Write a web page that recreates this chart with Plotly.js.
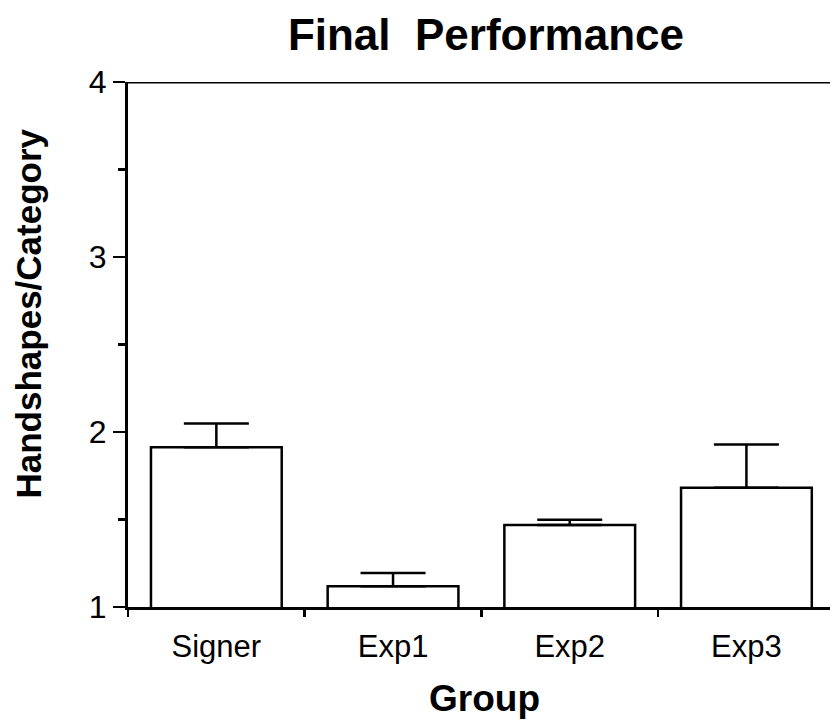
<!DOCTYPE html>
<html>
<head>
<meta charset="utf-8">
<script src="https://cdn.plot.ly/plotly-3.0.1.min.js"></script>
<style>html,body{margin:0;padding:0;background:#fff;}#chart{width:830px;height:722px;}</style>
</head>
<body>
<div id="chart"></div>
<script>
const categories = ["Signer", "Exp1", "Exp2", "Exp3"];
const means = [1.913, 1.118, 1.469, 1.682];
const errorsUp = [0.135, 0.076, 0.030, 0.246];
const errorsDown = [0, 0, 0, 0];
const yTickValues = [1, 2, 3, 4];
const yTickLabels = ["1", "2", "3", "4"];

const FONT = "Liberation Sans, Arial, Helvetica, sans-serif";

const trace = {
  type: "bar",
  x: categories,
  y: means,
  width: 0.74,
  marker: {color: "#ffffff", line: {color: "#000000", width: 2.5}},
  error_y: {
    type: "data",
    symmetric: false,
    array: errorsUp,
    arrayminus: errorsDown,
    color: "#000000",
    thickness: 2.5,
    width: 32.5
  },
  hoverinfo: "x+y"
};

const layout = {
  width: 830,
  height: 722,
  margin: {l: 128, r: 0, t: 82, b: 115, pad: 0},
  paper_bgcolor: "#ffffff",
  plot_bgcolor: "#ffffff",
  showlegend: false,
  font: {family: FONT, color: "#000000"},
  title: {
    text: "<b>Final  Performance</b>",
    font: {family: FONT, size: 44, color: "#000000"},
    x: 0.5855, xref: "container", xanchor: "center",
    y: 0.952, yref: "container", yanchor: "middle"
  },
  xaxis: {
    type: "category",
    range: [-0.5, 3.473],
    showgrid: false,
    zeroline: false,
    showline: true,
    linecolor: "#000000",
    linewidth: 3,
    ticks: "outside",
    tickson: "boundaries",
    ticklen: 7,
    tickwidth: 2.5,
    tickcolor: "#000000",
    tickfont: {family: FONT, size: 31, color: "#000000"},
    ticklabelstandoff: 10,
    fixedrange: true
  },
  yaxis: {
    range: [1, 4],
    tickvals: yTickValues,
    ticktext: yTickLabels,
    showgrid: false,
    zeroline: false,
    showline: true,
    linecolor: "#000000",
    linewidth: 3,
    ticks: "outside",
    ticklen: 12,
    tickwidth: 2.5,
    tickcolor: "#000000",
    tickfont: {family: FONT, size: 32, color: "#000000"},
    ticklabelstandoff: 0,
    minor: {dtick: 0.5, ticks: "outside", ticklen: 7, tickwidth: 2.5, tickcolor: "#000000", showgrid: false},
    fixedrange: true
  },
  shapes: [
    {type: "line", xref: "paper", yref: "y", x0: 0, x1: 1, y0: 4, y1: 4,
     line: {color: "#000000", width: 3}}
  ],
  annotations: [
    {text: "<b>Handshapes/Category</b>", textangle: -90,
     xref: "paper", yref: "paper", x: (28 - 128) / 702, y: (607 - 313.5) / 525,
     xanchor: "center", yanchor: "middle", showarrow: false,
     font: {family: FONT, size: 35, color: "#000000"}},
    {text: "<b>Group</b>",
     xref: "paper", yref: "paper", x: (484 - 128) / 702, y: (607 - 698) / 525,
     xanchor: "center", yanchor: "middle", showarrow: false,
     font: {family: FONT, size: 37, color: "#000000"}}
  ]
};

Plotly.newPlot("chart", [trace], layout, {displayModeBar: false, staticPlot: true});
</script>
</body>
</html>
